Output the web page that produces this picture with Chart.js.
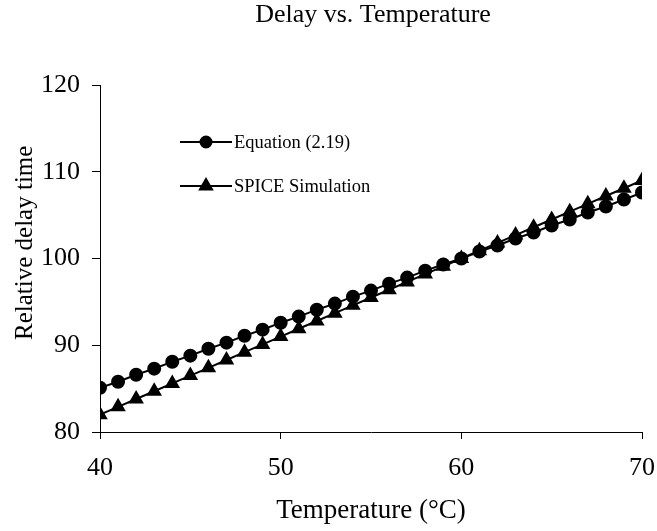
<!DOCTYPE html>
<html>
<head>
<meta charset="utf-8">
<script src="https://cdn.jsdelivr.net/npm/chart.js@4.4.1/dist/chart.umd.min.js"></script>
<style>
  html, body { margin: 0; padding: 0; background: #fff; }
  #delay { display: block; }
</style>
</head>
<body>
<canvas id="delay" width="657" height="531"></canvas>
<script>
// temperature in degrees C, one point per degree
var temperature = [40, 41, 42, 43, 44, 45, 46, 47, 48, 49, 50, 51, 52, 53, 54, 55,
    56, 57, 58, 59, 60, 61, 62, 63, 64, 65, 66, 67, 68, 69, 70];

// relative delay time, 100 = delay at 60 C
var equation = [85.1, 85.8, 86.6, 87.3, 88.1, 88.8, 89.6, 90.3, 91.1, 91.8, 92.6,
    93.3, 94.1, 94.8, 95.6, 96.3, 97.1, 97.8, 98.6, 99.3, 100.0, 100.8, 101.5,
    102.3, 103.0, 103.8, 104.5, 105.3, 106.0, 106.8, 107.6];
var spice = [82.0, 82.9, 83.8, 84.7, 85.6, 86.5, 87.4, 88.3, 89.2, 90.1, 91.0,
    91.9, 92.8, 93.7, 94.6, 95.5, 96.4, 97.3, 98.2, 99.1, 100.0, 100.9, 101.8,
    102.7, 103.6, 104.5, 105.4, 106.3, 107.2, 108.1, 109.0];

var xTicks = [40, 50, 60, 70];
var yTicks = [80, 90, 100, 110, 120];

var serif = "'Liberation Serif', 'Times New Roman', serif";

function pairs(ys) {
    return temperature.map(function (t, i) { return { x: t, y: ys[i] }; });
}

// keep the plot box fixed: no extra room for overhanging end labels
function noOverhang(axis) {
    axis.paddingLeft = 0;
    axis.paddingRight = 0;
    axis.paddingTop = 0;
    axis.paddingBottom = 0;
}

// title, axis titles and the little legend inside the plot
var decorations = {
    id: 'decorations',
    afterDraw: function (chart) {
        var ctx = chart.ctx;
        var area = chart.chartArea;
        ctx.save();
        ctx.fillStyle = '#000';
        ctx.textAlign = 'center';
        ctx.textBaseline = 'alphabetic';
        ctx.font = '26px ' + serif;
        ctx.fillText('Delay vs. Temperature', 373, 22);

        ctx.font = '27px ' + serif;
        ctx.fillText('Temperature (\u00B0C)', (area.left + area.right) / 2, 518);

        // y title runs past the top of its box, so it gets clipped
        ctx.save();
        ctx.beginPath();
        ctx.rect(0, 144, 60, 300);
        ctx.clip();
        ctx.font = '25px ' + serif;
        ctx.textAlign = 'left';
        ctx.translate(32, 340);
        ctx.rotate(-Math.PI / 2);
        ctx.fillText('Relative delay time', 0, 0);
        ctx.restore();

        var rows = [
            { label: 'Equation (2.19)', style: 'circle', r: 5.5, y: 142 },
            { label: 'SPICE Simulation', style: 'triangle', r: 7, y: 186 }
        ];
        ctx.font = '18.5px ' + serif;
        ctx.textAlign = 'left';
        ctx.textBaseline = 'middle';
        rows.forEach(function (row) {
            ctx.strokeStyle = '#000';
            ctx.lineWidth = 2;
            ctx.beginPath();
            ctx.moveTo(180, row.y);
            ctx.lineTo(232, row.y);
            ctx.stroke();
            Chart.helpers.drawPoint(ctx, {
                pointStyle: row.style, radius: row.r, borderWidth: 1, rotation: 0
            }, 206, row.y);
            ctx.fill();
            ctx.fillText(row.label, 234, row.y + 1);
        });
        ctx.restore();
    }
};

new Chart(document.getElementById('delay'), {
    type: 'line',
    data: {
        datasets: [{
            label: 'Equation (2.19)',
            data: pairs(equation),
            borderColor: '#000',
            backgroundColor: '#000',
            borderWidth: 2,
            pointStyle: 'circle',
            pointRadius: 6,
            fill: false
        }, {
            label: 'SPICE Simulation',
            data: pairs(spice),
            borderColor: '#000',
            backgroundColor: '#000',
            borderWidth: 2,
            pointStyle: 'triangle',
            pointRadius: 7,
            fill: false
        }]
    },
    options: {
        responsive: false,
        animation: false,
        layout: { padding: { top: 85, right: 15, left: 0, bottom: 0 } },
        plugins: {
            legend: { display: false },
            title: { display: false },
            tooltip: { enabled: false }
        },
        scales: {
            x: {
                type: 'linear',
                min: 40,
                max: 70,
                afterBuildTicks: function (axis) {
                    axis.ticks = xTicks.map(function (v) { return { value: v }; });
                },
                afterFit: function (axis) { axis.height = 99; noOverhang(axis); },
                grid: { drawOnChartArea: false, tickLength: 7, color: '#000', lineWidth: 1 },
                border: { color: '#000', width: 1 },
                ticks: { color: '#000', padding: 14, maxRotation: 0, font: { family: serif, size: 26 } }
            },
            y: {
                type: 'linear',
                min: 80,
                max: 120,
                afterBuildTicks: function (axis) {
                    axis.ticks = yTicks.map(function (v) { return { value: v }; });
                },
                afterFit: function (axis) { axis.width = 100; noOverhang(axis); },
                grid: { drawOnChartArea: false, tickLength: 8, color: '#000', lineWidth: 1 },
                border: { color: '#000', width: 1 },
                ticks: { color: '#000', padding: 12, font: { family: serif, size: 26 } }
            }
        }
    },
    plugins: [decorations]
});
</script>
</body>
</html>
